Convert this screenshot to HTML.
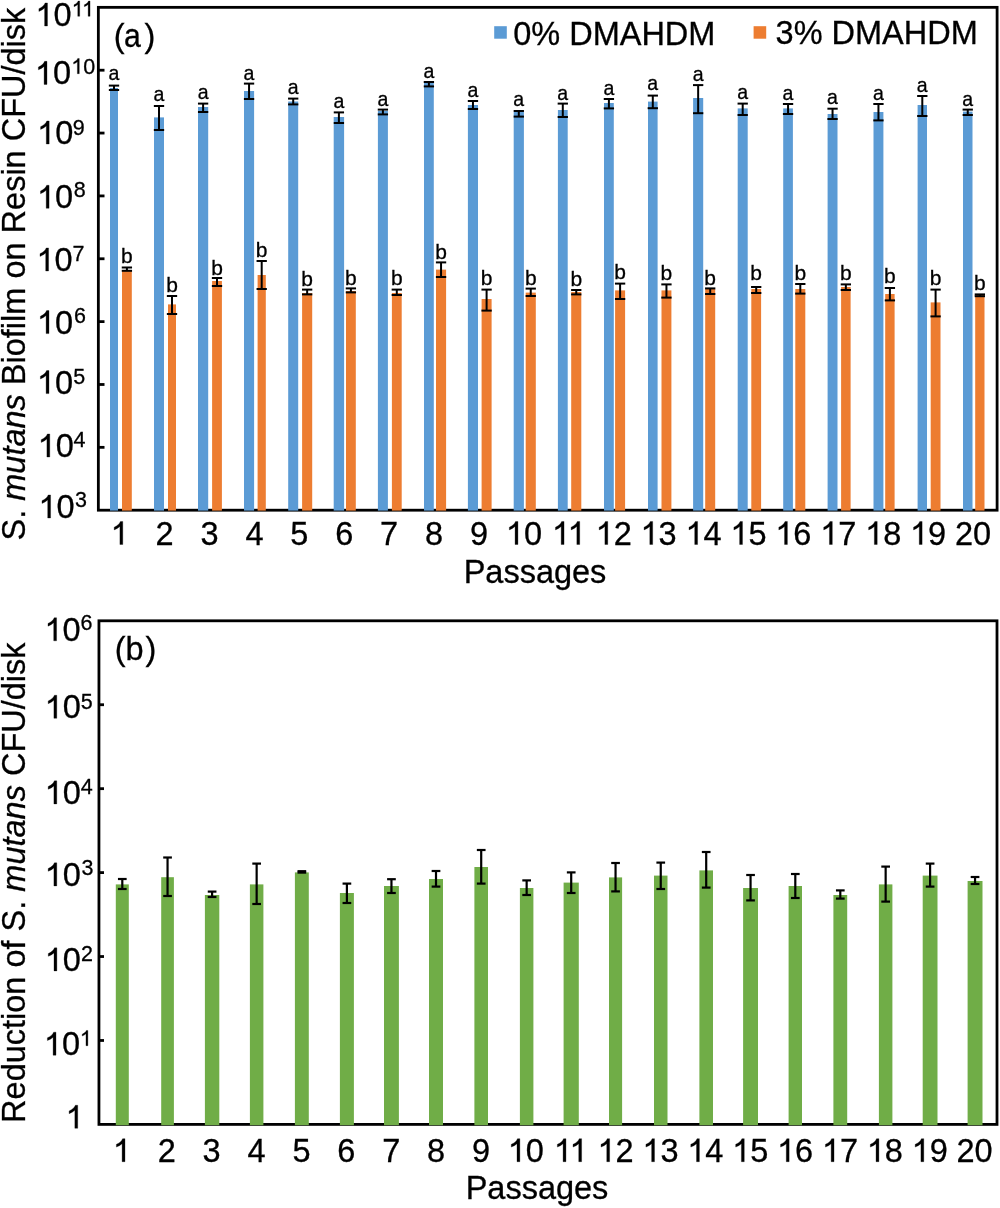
<!DOCTYPE html>
<html><head><meta charset="utf-8"><style>
html,body{margin:0;padding:0;background:#fff;}
svg{display:block;will-change:transform;}
text{font-family:"Liberation Sans",sans-serif;fill:#000;stroke:#000;stroke-width:0.3px;}
.g1{stroke:#000;stroke-width:0.3px;}
</style></head><body>
<svg width="1000" height="1208" viewBox="0 0 1000 1208">
<rect width="1000" height="1208" fill="#fff"/>
<rect x="98.35" y="7.35" width="898.75" height="502.85" fill="none" stroke="#000" stroke-width="2.8"/>
<rect x="110.00" y="88.00" width="8.00" height="422.60" fill="#5B9BD5"/>
<rect x="122.00" y="270.00" width="9.80" height="240.60" fill="#ED7D31"/>
<rect x="154.00" y="117.40" width="10.00" height="393.20" fill="#5B9BD5"/>
<rect x="168.00" y="304.40" width="8.00" height="206.20" fill="#ED7D31"/>
<rect x="198.00" y="107.00" width="10.20" height="403.60" fill="#5B9BD5"/>
<rect x="212.10" y="281.00" width="9.80" height="229.60" fill="#ED7D31"/>
<rect x="244.00" y="91.00" width="10.10" height="419.60" fill="#5B9BD5"/>
<rect x="257.60" y="275.00" width="8.20" height="235.60" fill="#ED7D31"/>
<rect x="288.20" y="101.50" width="10.00" height="409.10" fill="#5B9BD5"/>
<rect x="302.10" y="293.00" width="10.10" height="217.60" fill="#ED7D31"/>
<rect x="333.70" y="117.00" width="10.40" height="393.60" fill="#5B9BD5"/>
<rect x="346.00" y="291.00" width="9.80" height="219.60" fill="#ED7D31"/>
<rect x="377.90" y="111.00" width="10.00" height="399.60" fill="#5B9BD5"/>
<rect x="391.90" y="293.00" width="9.80" height="217.60" fill="#ED7D31"/>
<rect x="424.00" y="83.00" width="9.80" height="427.60" fill="#5B9BD5"/>
<rect x="436.00" y="269.60" width="10.10" height="241.00" fill="#ED7D31"/>
<rect x="467.90" y="105.00" width="10.10" height="405.60" fill="#5B9BD5"/>
<rect x="481.60" y="299.00" width="10.00" height="211.60" fill="#ED7D31"/>
<rect x="513.70" y="112.00" width="10.20" height="398.60" fill="#5B9BD5"/>
<rect x="525.70" y="292.60" width="10.10" height="218.00" fill="#ED7D31"/>
<rect x="557.90" y="110.00" width="9.80" height="400.60" fill="#5B9BD5"/>
<rect x="571.20" y="292.00" width="10.10" height="218.60" fill="#ED7D31"/>
<rect x="604.00" y="103.00" width="9.80" height="407.60" fill="#5B9BD5"/>
<rect x="615.10" y="290.40" width="10.00" height="220.20" fill="#ED7D31"/>
<rect x="648.00" y="101.60" width="9.60" height="409.00" fill="#5B9BD5"/>
<rect x="661.50" y="290.40" width="9.90" height="220.20" fill="#ED7D31"/>
<rect x="693.10" y="98.00" width="10.10" height="412.60" fill="#5B9BD5"/>
<rect x="705.20" y="289.00" width="10.00" height="221.60" fill="#ED7D31"/>
<rect x="737.70" y="108.40" width="10.00" height="402.20" fill="#5B9BD5"/>
<rect x="751.30" y="289.00" width="9.80" height="221.60" fill="#ED7D31"/>
<rect x="783.20" y="108.40" width="9.70" height="402.20" fill="#5B9BD5"/>
<rect x="795.30" y="289.00" width="10.00" height="221.60" fill="#ED7D31"/>
<rect x="827.60" y="114.00" width="9.90" height="396.60" fill="#5B9BD5"/>
<rect x="841.10" y="287.00" width="9.50" height="223.60" fill="#ED7D31"/>
<rect x="873.50" y="112.00" width="9.90" height="398.60" fill="#5B9BD5"/>
<rect x="885.20" y="294.00" width="9.40" height="216.60" fill="#ED7D31"/>
<rect x="917.60" y="105.00" width="9.40" height="405.60" fill="#5B9BD5"/>
<rect x="930.70" y="302.40" width="9.80" height="208.20" fill="#ED7D31"/>
<rect x="963.00" y="111.60" width="9.50" height="399.00" fill="#5B9BD5"/>
<rect x="975.20" y="294.50" width="9.30" height="216.10" fill="#ED7D31"/>
<g stroke="#000" stroke-width="2" fill="none"><line x1="114.00" y1="85.60" x2="114.00" y2="90.00"/><line x1="108.85" y1="85.60" x2="119.15" y2="85.60"/><line x1="108.85" y1="90.00" x2="119.15" y2="90.00"/><line x1="126.90" y1="267.50" x2="126.90" y2="270.80"/><line x1="121.75" y1="267.50" x2="132.05" y2="267.50"/><line x1="121.75" y1="270.80" x2="132.05" y2="270.80"/><line x1="159.00" y1="106.00" x2="159.00" y2="130.00"/><line x1="153.85" y1="106.00" x2="164.15" y2="106.00"/><line x1="153.85" y1="130.00" x2="164.15" y2="130.00"/><line x1="172.00" y1="296.00" x2="172.00" y2="314.00"/><line x1="166.85" y1="296.00" x2="177.15" y2="296.00"/><line x1="166.85" y1="314.00" x2="177.15" y2="314.00"/><line x1="203.10" y1="103.60" x2="203.10" y2="112.00"/><line x1="197.95" y1="103.60" x2="208.25" y2="103.60"/><line x1="197.95" y1="112.00" x2="208.25" y2="112.00"/><line x1="217.00" y1="278.00" x2="217.00" y2="286.00"/><line x1="211.85" y1="278.00" x2="222.15" y2="278.00"/><line x1="211.85" y1="286.00" x2="222.15" y2="286.00"/><line x1="249.05" y1="83.60" x2="249.05" y2="99.00"/><line x1="243.90" y1="83.60" x2="254.20" y2="83.60"/><line x1="243.90" y1="99.00" x2="254.20" y2="99.00"/><line x1="261.70" y1="261.00" x2="261.70" y2="289.00"/><line x1="256.55" y1="261.00" x2="266.85" y2="261.00"/><line x1="256.55" y1="289.00" x2="266.85" y2="289.00"/><line x1="293.20" y1="98.60" x2="293.20" y2="104.40"/><line x1="288.05" y1="98.60" x2="298.35" y2="98.60"/><line x1="288.05" y1="104.40" x2="298.35" y2="104.40"/><line x1="307.15" y1="289.60" x2="307.15" y2="294.40"/><line x1="302.00" y1="289.60" x2="312.30" y2="289.60"/><line x1="302.00" y1="294.40" x2="312.30" y2="294.40"/><line x1="338.90" y1="112.40" x2="338.90" y2="123.00"/><line x1="333.75" y1="112.40" x2="344.05" y2="112.40"/><line x1="333.75" y1="123.00" x2="344.05" y2="123.00"/><line x1="350.90" y1="288.40" x2="350.90" y2="292.40"/><line x1="345.75" y1="288.40" x2="356.05" y2="288.40"/><line x1="345.75" y1="292.40" x2="356.05" y2="292.40"/><line x1="382.90" y1="109.60" x2="382.90" y2="114.40"/><line x1="377.75" y1="109.60" x2="388.05" y2="109.60"/><line x1="377.75" y1="114.40" x2="388.05" y2="114.40"/><line x1="396.80" y1="289.60" x2="396.80" y2="295.00"/><line x1="391.65" y1="289.60" x2="401.95" y2="289.60"/><line x1="391.65" y1="295.00" x2="401.95" y2="295.00"/><line x1="428.90" y1="82.00" x2="428.90" y2="86.40"/><line x1="423.75" y1="82.00" x2="434.05" y2="82.00"/><line x1="423.75" y1="86.40" x2="434.05" y2="86.40"/><line x1="441.05" y1="262.40" x2="441.05" y2="277.00"/><line x1="435.90" y1="262.40" x2="446.20" y2="262.40"/><line x1="435.90" y1="277.00" x2="446.20" y2="277.00"/><line x1="472.95" y1="101.00" x2="472.95" y2="109.00"/><line x1="467.80" y1="101.00" x2="478.10" y2="101.00"/><line x1="467.80" y1="109.00" x2="478.10" y2="109.00"/><line x1="486.60" y1="289.60" x2="486.60" y2="310.60"/><line x1="481.45" y1="289.60" x2="491.75" y2="289.60"/><line x1="481.45" y1="310.60" x2="491.75" y2="310.60"/><line x1="518.80" y1="111.00" x2="518.80" y2="116.60"/><line x1="513.65" y1="111.00" x2="523.95" y2="111.00"/><line x1="513.65" y1="116.60" x2="523.95" y2="116.60"/><line x1="530.75" y1="288.60" x2="530.75" y2="296.00"/><line x1="525.60" y1="288.60" x2="535.90" y2="288.60"/><line x1="525.60" y1="296.00" x2="535.90" y2="296.00"/><line x1="562.80" y1="103.60" x2="562.80" y2="117.00"/><line x1="557.65" y1="103.60" x2="567.95" y2="103.60"/><line x1="557.65" y1="117.00" x2="567.95" y2="117.00"/><line x1="576.25" y1="290.00" x2="576.25" y2="294.40"/><line x1="571.10" y1="290.00" x2="581.40" y2="290.00"/><line x1="571.10" y1="294.40" x2="581.40" y2="294.40"/><line x1="608.90" y1="99.00" x2="608.90" y2="108.40"/><line x1="603.75" y1="99.00" x2="614.05" y2="99.00"/><line x1="603.75" y1="108.40" x2="614.05" y2="108.40"/><line x1="620.10" y1="283.60" x2="620.10" y2="299.00"/><line x1="614.95" y1="283.60" x2="625.25" y2="283.60"/><line x1="614.95" y1="299.00" x2="625.25" y2="299.00"/><line x1="652.80" y1="95.60" x2="652.80" y2="108.20"/><line x1="647.65" y1="95.60" x2="657.95" y2="95.60"/><line x1="647.65" y1="108.20" x2="657.95" y2="108.20"/><line x1="666.45" y1="284.40" x2="666.45" y2="297.60"/><line x1="661.30" y1="284.40" x2="671.60" y2="284.40"/><line x1="661.30" y1="297.60" x2="671.60" y2="297.60"/><line x1="698.15" y1="85.10" x2="698.15" y2="113.20"/><line x1="693.00" y1="85.10" x2="703.30" y2="85.10"/><line x1="693.00" y1="113.20" x2="703.30" y2="113.20"/><line x1="710.20" y1="288.40" x2="710.20" y2="294.00"/><line x1="705.05" y1="288.40" x2="715.35" y2="288.40"/><line x1="705.05" y1="294.00" x2="715.35" y2="294.00"/><line x1="742.70" y1="103.60" x2="742.70" y2="115.00"/><line x1="737.55" y1="103.60" x2="747.85" y2="103.60"/><line x1="737.55" y1="115.00" x2="747.85" y2="115.00"/><line x1="756.20" y1="287.00" x2="756.20" y2="293.00"/><line x1="751.05" y1="287.00" x2="761.35" y2="287.00"/><line x1="751.05" y1="293.00" x2="761.35" y2="293.00"/><line x1="788.05" y1="104.00" x2="788.05" y2="114.00"/><line x1="782.90" y1="104.00" x2="793.20" y2="104.00"/><line x1="782.90" y1="114.00" x2="793.20" y2="114.00"/><line x1="800.30" y1="284.00" x2="800.30" y2="293.60"/><line x1="795.15" y1="284.00" x2="805.45" y2="284.00"/><line x1="795.15" y1="293.60" x2="805.45" y2="293.60"/><line x1="832.55" y1="108.70" x2="832.55" y2="119.00"/><line x1="827.40" y1="108.70" x2="837.70" y2="108.70"/><line x1="827.40" y1="119.00" x2="837.70" y2="119.00"/><line x1="845.85" y1="284.40" x2="845.85" y2="290.00"/><line x1="840.70" y1="284.40" x2="851.00" y2="284.40"/><line x1="840.70" y1="290.00" x2="851.00" y2="290.00"/><line x1="878.45" y1="104.00" x2="878.45" y2="120.40"/><line x1="873.30" y1="104.00" x2="883.60" y2="104.00"/><line x1="873.30" y1="120.40" x2="883.60" y2="120.40"/><line x1="889.90" y1="288.00" x2="889.90" y2="300.40"/><line x1="884.75" y1="288.00" x2="895.05" y2="288.00"/><line x1="884.75" y1="300.40" x2="895.05" y2="300.40"/><line x1="922.30" y1="96.00" x2="922.30" y2="116.00"/><line x1="917.15" y1="96.00" x2="927.45" y2="96.00"/><line x1="917.15" y1="116.00" x2="927.45" y2="116.00"/><line x1="935.60" y1="289.60" x2="935.60" y2="316.40"/><line x1="930.45" y1="289.60" x2="940.75" y2="289.60"/><line x1="930.45" y1="316.40" x2="940.75" y2="316.40"/><line x1="967.75" y1="109.60" x2="967.75" y2="115.00"/><line x1="962.60" y1="109.60" x2="972.90" y2="109.60"/><line x1="962.60" y1="115.00" x2="972.90" y2="115.00"/><line x1="979.85" y1="294.40" x2="979.85" y2="296.20"/><line x1="974.70" y1="294.40" x2="985.00" y2="294.40"/><line x1="974.70" y1="296.20" x2="985.00" y2="296.20"/></g>
<g font-size="21" text-anchor="middle"><text transform="translate(114.00,80.40) scale(0.93,1)">a</text><text transform="translate(126.90,263.40)">b</text><text transform="translate(159.00,101.40) scale(0.93,1)">a</text><text transform="translate(172.00,292.40)">b</text><text transform="translate(203.10,99.40) scale(0.93,1)">a</text><text transform="translate(217.00,274.80)">b</text><text transform="translate(249.05,80.00) scale(0.93,1)">a</text><text transform="translate(261.70,257.40)">b</text><text transform="translate(293.20,94.40) scale(0.93,1)">a</text><text transform="translate(307.15,286.40)">b</text><text transform="translate(338.90,108.40) scale(0.93,1)">a</text><text transform="translate(350.90,284.80)">b</text><text transform="translate(382.90,106.00) scale(0.93,1)">a</text><text transform="translate(396.80,285.40)">b</text><text transform="translate(428.90,78.40) scale(0.93,1)">a</text><text transform="translate(441.05,259.40)">b</text><text transform="translate(472.95,97.40) scale(0.93,1)">a</text><text transform="translate(486.60,284.80)">b</text><text transform="translate(518.80,106.00) scale(0.93,1)">a</text><text transform="translate(530.75,284.80)">b</text><text transform="translate(562.80,100.40) scale(0.93,1)">a</text><text transform="translate(576.25,286.40)">b</text><text transform="translate(608.90,94.80) scale(0.93,1)">a</text><text transform="translate(620.10,279.40)">b</text><text transform="translate(652.80,90.40) scale(0.93,1)">a</text><text transform="translate(666.45,280.40)">b</text><text transform="translate(698.15,81.30) scale(0.93,1)">a</text><text transform="translate(710.20,284.80)">b</text><text transform="translate(742.70,99.40) scale(0.93,1)">a</text><text transform="translate(756.20,280.40)">b</text><text transform="translate(788.05,100.40) scale(0.93,1)">a</text><text transform="translate(800.30,280.40)">b</text><text transform="translate(832.55,104.40) scale(0.93,1)">a</text><text transform="translate(845.85,280.40)">b</text><text transform="translate(878.45,100.40) scale(0.93,1)">a</text><text transform="translate(889.90,283.40)">b</text><text transform="translate(922.30,92.40) scale(0.93,1)">a</text><text transform="translate(935.60,285.40)">b</text><text transform="translate(967.75,106.40) scale(0.93,1)">a</text><text transform="translate(979.85,290.40)">b</text></g>
<g stroke="#000" stroke-width="2.8"><line x1="98.35" y1="447.34" x2="104.5" y2="447.34"/><line x1="98.35" y1="384.49" x2="104.5" y2="384.49"/><line x1="98.35" y1="321.63" x2="104.5" y2="321.63"/><line x1="98.35" y1="258.77" x2="104.5" y2="258.77"/><line x1="98.35" y1="195.92" x2="104.5" y2="195.92"/><line x1="98.35" y1="133.06" x2="104.5" y2="133.06"/><line x1="98.35" y1="70.21" x2="104.5" y2="70.21"/></g>
<g><path class="g1" transform="translate(35.36,26.00) scale(0.01587,-0.01635)" d="M763,0L583,0L583,1102Q430,970 223,894L223,1061Q380,1130 470,1210Q570,1300 615,1409L763,1409Z" vector-effect="non-scaling-stroke"/><text transform="translate(53.44,26.00) scale(1,1.03)" font-size="32.5">0</text><path class="g1" transform="translate(71.66,16.30) scale(0.01050,-0.01081)" d="M763,0L583,0L583,1102Q430,970 223,894L223,1061Q380,1130 470,1210Q570,1300 615,1409L763,1409Z" vector-effect="non-scaling-stroke"/><path class="g1" transform="translate(82.02,16.30) scale(0.01050,-0.01081)" d="M763,0L583,0L583,1102Q430,970 223,894L223,1061Q380,1130 470,1210Q570,1300 615,1409L763,1409Z" vector-effect="non-scaling-stroke"/><path class="g1" transform="translate(34.86,84.40) scale(0.01587,-0.01635)" d="M763,0L583,0L583,1102Q430,970 223,894L223,1061Q380,1130 470,1210Q570,1300 615,1409L763,1409Z" vector-effect="non-scaling-stroke"/><text transform="translate(52.94,84.40) scale(1,1.03)" font-size="32.5">0</text><path class="g1" transform="translate(71.26,73.70) scale(0.01050,-0.01081)" d="M763,0L583,0L583,1102Q430,970 223,894L223,1061Q380,1130 470,1210Q570,1300 615,1409L763,1409Z" vector-effect="non-scaling-stroke"/><text transform="translate(83.22,73.70) scale(1,1.03)" font-size="21.5">0</text><path class="g1" transform="translate(37.06,144.00) scale(0.01587,-0.01635)" d="M763,0L583,0L583,1102Q430,970 223,894L223,1061Q380,1130 470,1210Q570,1300 615,1409L763,1409Z" vector-effect="non-scaling-stroke"/><text transform="translate(55.14,144.00) scale(1,1.03)" font-size="32.5">0</text><text transform="translate(72.69,134.50) scale(1,1.03)" font-size="21.5">9</text><path class="g1" transform="translate(36.96,208.30) scale(0.01587,-0.01635)" d="M763,0L583,0L583,1102Q430,970 223,894L223,1061Q380,1130 470,1210Q570,1300 615,1409L763,1409Z" vector-effect="non-scaling-stroke"/><text transform="translate(55.04,208.30) scale(1,1.03)" font-size="32.5">0</text><text transform="translate(73.67,197.00) scale(1,1.03)" font-size="21.5">8</text><path class="g1" transform="translate(36.46,271.00) scale(0.01587,-0.01635)" d="M763,0L583,0L583,1102Q430,970 223,894L223,1061Q380,1130 470,1210Q570,1300 615,1409L763,1409Z" vector-effect="non-scaling-stroke"/><text transform="translate(54.54,271.00) scale(1,1.03)" font-size="32.5">0</text><text transform="translate(72.60,260.60) scale(1,1.03)" font-size="21.5">7</text><path class="g1" transform="translate(36.86,333.60) scale(0.01587,-0.01635)" d="M763,0L583,0L583,1102Q430,970 223,894L223,1061Q380,1130 470,1210Q570,1300 615,1409L763,1409Z" vector-effect="non-scaling-stroke"/><text transform="translate(54.94,333.60) scale(1,1.03)" font-size="32.5">0</text><text transform="translate(73.91,323.30) scale(1,1.03)" font-size="21.5">6</text><path class="g1" transform="translate(36.86,393.60) scale(0.01587,-0.01635)" d="M763,0L583,0L583,1102Q430,970 223,894L223,1061Q380,1130 470,1210Q570,1300 615,1409L763,1409Z" vector-effect="non-scaling-stroke"/><text transform="translate(54.94,393.60) scale(1,1.03)" font-size="32.5">0</text><text transform="translate(73.24,383.70) scale(1,1.03)" font-size="21.5">5</text><path class="g1" transform="translate(37.66,457.00) scale(0.01587,-0.01635)" d="M763,0L583,0L583,1102Q430,970 223,894L223,1061Q380,1130 470,1210Q570,1300 615,1409L763,1409Z" vector-effect="non-scaling-stroke"/><text transform="translate(55.74,457.00) scale(1,1.03)" font-size="32.5">0</text><text transform="translate(73.61,446.90) scale(1,1.03)" font-size="21.5">4</text><path class="g1" transform="translate(38.46,518.00) scale(0.01587,-0.01635)" d="M763,0L583,0L583,1102Q430,970 223,894L223,1061Q380,1130 470,1210Q570,1300 615,1409L763,1409Z" vector-effect="non-scaling-stroke"/><text transform="translate(56.54,518.00) scale(1,1.03)" font-size="32.5">0</text><text transform="translate(74.98,507.40) scale(1,1.03)" font-size="21.5">3</text></g>
<g><path class="g1" transform="translate(110.66,544.50) scale(0.01587,-0.01635)" d="M763,0L583,0L583,1102Q430,970 223,894L223,1061Q380,1130 470,1210Q570,1300 615,1409L763,1409Z" vector-effect="non-scaling-stroke"/><text transform="translate(155.57,544.50) scale(1,1.03)" font-size="32.5">2</text><text transform="translate(200.48,544.50) scale(1,1.03)" font-size="32.5">3</text><text transform="translate(245.39,544.50) scale(1,1.03)" font-size="32.5">4</text><text transform="translate(290.30,544.50) scale(1,1.03)" font-size="32.5">5</text><text transform="translate(335.21,544.50) scale(1,1.03)" font-size="32.5">6</text><text transform="translate(380.12,544.50) scale(1,1.03)" font-size="32.5">7</text><text transform="translate(425.03,544.50) scale(1,1.03)" font-size="32.5">8</text><text transform="translate(469.94,544.50) scale(1,1.03)" font-size="32.5">9</text><path class="g1" transform="translate(505.82,544.50) scale(0.01587,-0.01635)" d="M763,0L583,0L583,1102Q430,970 223,894L223,1061Q380,1130 470,1210Q570,1300 615,1409L763,1409Z" vector-effect="non-scaling-stroke"/><text transform="translate(523.89,544.50) scale(1,1.03)" font-size="32.5">0</text><path class="g1" transform="translate(551.93,544.50) scale(0.01587,-0.01635)" d="M763,0L583,0L583,1102Q430,970 223,894L223,1061Q380,1130 470,1210Q570,1300 615,1409L763,1409Z" vector-effect="non-scaling-stroke"/><path class="g1" transform="translate(567.59,544.50) scale(0.01587,-0.01635)" d="M763,0L583,0L583,1102Q430,970 223,894L223,1061Q380,1130 470,1210Q570,1300 615,1409L763,1409Z" vector-effect="non-scaling-stroke"/><path class="g1" transform="translate(595.64,544.50) scale(0.01587,-0.01635)" d="M763,0L583,0L583,1102Q430,970 223,894L223,1061Q380,1130 470,1210Q570,1300 615,1409L763,1409Z" vector-effect="non-scaling-stroke"/><text transform="translate(613.71,544.50) scale(1,1.03)" font-size="32.5">2</text><path class="g1" transform="translate(640.55,544.50) scale(0.01587,-0.01635)" d="M763,0L583,0L583,1102Q430,970 223,894L223,1061Q380,1130 470,1210Q570,1300 615,1409L763,1409Z" vector-effect="non-scaling-stroke"/><text transform="translate(658.62,544.50) scale(1,1.03)" font-size="32.5">3</text><path class="g1" transform="translate(685.46,544.50) scale(0.01587,-0.01635)" d="M763,0L583,0L583,1102Q430,970 223,894L223,1061Q380,1130 470,1210Q570,1300 615,1409L763,1409Z" vector-effect="non-scaling-stroke"/><text transform="translate(703.53,544.50) scale(1,1.03)" font-size="32.5">4</text><path class="g1" transform="translate(730.37,544.50) scale(0.01587,-0.01635)" d="M763,0L583,0L583,1102Q430,970 223,894L223,1061Q380,1130 470,1210Q570,1300 615,1409L763,1409Z" vector-effect="non-scaling-stroke"/><text transform="translate(748.44,544.50) scale(1,1.03)" font-size="32.5">5</text><path class="g1" transform="translate(775.28,544.50) scale(0.01587,-0.01635)" d="M763,0L583,0L583,1102Q430,970 223,894L223,1061Q380,1130 470,1210Q570,1300 615,1409L763,1409Z" vector-effect="non-scaling-stroke"/><text transform="translate(793.35,544.50) scale(1,1.03)" font-size="32.5">6</text><path class="g1" transform="translate(820.19,544.50) scale(0.01587,-0.01635)" d="M763,0L583,0L583,1102Q430,970 223,894L223,1061Q380,1130 470,1210Q570,1300 615,1409L763,1409Z" vector-effect="non-scaling-stroke"/><text transform="translate(838.26,544.50) scale(1,1.03)" font-size="32.5">7</text><path class="g1" transform="translate(865.10,544.50) scale(0.01587,-0.01635)" d="M763,0L583,0L583,1102Q430,970 223,894L223,1061Q380,1130 470,1210Q570,1300 615,1409L763,1409Z" vector-effect="non-scaling-stroke"/><text transform="translate(883.17,544.50) scale(1,1.03)" font-size="32.5">8</text><path class="g1" transform="translate(910.01,544.50) scale(0.01587,-0.01635)" d="M763,0L583,0L583,1102Q430,970 223,894L223,1061Q380,1130 470,1210Q570,1300 615,1409L763,1409Z" vector-effect="non-scaling-stroke"/><text transform="translate(928.08,544.50) scale(1,1.03)" font-size="32.5">9</text><text transform="translate(954.92,544.50) scale(1,1.03)" font-size="32.5">20</text></g>
<text transform="translate(535,583) scale(1,1.03)" font-size="32.5" text-anchor="middle">Passages</text>
<text transform="translate(24.9,540.5) rotate(-90)" font-size="32.5">S. <tspan font-style="italic">mutans</tspan> Biofilm on Resin CFU/disk</text>
<g font-size="32.5"><text x="113.8" y="47">(</text><text transform="translate(124.1,47) scale(0.93,1)">a</text><text x="144.4" y="47">)</text></g>
<rect x="494.2" y="26.2" width="12.6" height="12.5" fill="#5B9BD5"/>
<text transform="translate(513.2,44.9) scale(1,1.03)" font-size="32.5">0% DMAHDM</text>
<rect x="753.6" y="26.2" width="12.6" height="12.5" fill="#ED7D31"/>
<text transform="translate(775.6,43.9) scale(1,1.03)" font-size="32.5">3% DMAHDM</text>
<rect x="98.95" y="620.8" width="898.05" height="503.60" fill="none" stroke="#000" stroke-width="2.8"/>
<rect x="115.80" y="884.40" width="13.00" height="240.80" fill="#70AD47"/>
<rect x="161.20" y="877.20" width="12.70" height="248.00" fill="#70AD47"/>
<rect x="204.90" y="895.00" width="14.40" height="230.20" fill="#70AD47"/>
<rect x="249.90" y="884.40" width="13.50" height="240.80" fill="#70AD47"/>
<rect x="294.90" y="872.40" width="13.90" height="252.80" fill="#70AD47"/>
<rect x="339.90" y="893.00" width="14.00" height="232.20" fill="#70AD47"/>
<rect x="384.00" y="886.00" width="14.90" height="239.20" fill="#70AD47"/>
<rect x="429.00" y="879.00" width="14.00" height="246.20" fill="#70AD47"/>
<rect x="474.40" y="867.00" width="13.60" height="258.20" fill="#70AD47"/>
<rect x="519.90" y="888.00" width="13.50" height="237.20" fill="#70AD47"/>
<rect x="563.60" y="882.60" width="15.20" height="242.60" fill="#70AD47"/>
<rect x="609.00" y="877.40" width="13.10" height="247.80" fill="#70AD47"/>
<rect x="654.00" y="875.60" width="13.50" height="249.60" fill="#70AD47"/>
<rect x="699.40" y="870.40" width="13.60" height="254.80" fill="#70AD47"/>
<rect x="743.10" y="888.00" width="14.90" height="237.20" fill="#70AD47"/>
<rect x="788.60" y="886.00" width="13.40" height="239.20" fill="#70AD47"/>
<rect x="833.40" y="895.00" width="13.80" height="230.20" fill="#70AD47"/>
<rect x="878.90" y="884.40" width="13.50" height="240.80" fill="#70AD47"/>
<rect x="922.70" y="875.60" width="14.80" height="249.60" fill="#70AD47"/>
<rect x="967.60" y="881.00" width="14.90" height="244.20" fill="#70AD47"/>
<g stroke="#000" stroke-width="2.2" fill="none"><line x1="122.30" y1="879.00" x2="122.30" y2="889.00"/><line x1="117.95" y1="879.00" x2="126.65" y2="879.00"/><line x1="117.95" y1="889.00" x2="126.65" y2="889.00"/><line x1="167.55" y1="857.50" x2="167.55" y2="896.00"/><line x1="163.20" y1="857.50" x2="171.90" y2="857.50"/><line x1="163.20" y1="896.00" x2="171.90" y2="896.00"/><line x1="212.10" y1="891.60" x2="212.10" y2="897.00"/><line x1="207.75" y1="891.60" x2="216.45" y2="891.60"/><line x1="207.75" y1="897.00" x2="216.45" y2="897.00"/><line x1="256.65" y1="863.60" x2="256.65" y2="904.00"/><line x1="252.30" y1="863.60" x2="261.00" y2="863.60"/><line x1="252.30" y1="904.00" x2="261.00" y2="904.00"/><line x1="301.85" y1="871.20" x2="301.85" y2="872.60"/><line x1="297.50" y1="871.20" x2="306.20" y2="871.20"/><line x1="297.50" y1="872.60" x2="306.20" y2="872.60"/><line x1="346.90" y1="883.60" x2="346.90" y2="903.00"/><line x1="342.55" y1="883.60" x2="351.25" y2="883.60"/><line x1="342.55" y1="903.00" x2="351.25" y2="903.00"/><line x1="391.45" y1="879.20" x2="391.45" y2="893.00"/><line x1="387.10" y1="879.20" x2="395.80" y2="879.20"/><line x1="387.10" y1="893.00" x2="395.80" y2="893.00"/><line x1="436.00" y1="871.00" x2="436.00" y2="886.60"/><line x1="431.65" y1="871.00" x2="440.35" y2="871.00"/><line x1="431.65" y1="886.60" x2="440.35" y2="886.60"/><line x1="481.20" y1="850.00" x2="481.20" y2="883.60"/><line x1="476.85" y1="850.00" x2="485.55" y2="850.00"/><line x1="476.85" y1="883.60" x2="485.55" y2="883.60"/><line x1="526.65" y1="880.40" x2="526.65" y2="895.00"/><line x1="522.30" y1="880.40" x2="531.00" y2="880.40"/><line x1="522.30" y1="895.00" x2="531.00" y2="895.00"/><line x1="571.20" y1="872.40" x2="571.20" y2="893.00"/><line x1="566.85" y1="872.40" x2="575.55" y2="872.40"/><line x1="566.85" y1="893.00" x2="575.55" y2="893.00"/><line x1="615.55" y1="863.00" x2="615.55" y2="891.40"/><line x1="611.20" y1="863.00" x2="619.90" y2="863.00"/><line x1="611.20" y1="891.40" x2="619.90" y2="891.40"/><line x1="660.75" y1="862.60" x2="660.75" y2="889.00"/><line x1="656.40" y1="862.60" x2="665.10" y2="862.60"/><line x1="656.40" y1="889.00" x2="665.10" y2="889.00"/><line x1="706.20" y1="852.00" x2="706.20" y2="887.60"/><line x1="701.85" y1="852.00" x2="710.55" y2="852.00"/><line x1="701.85" y1="887.60" x2="710.55" y2="887.60"/><line x1="750.55" y1="875.00" x2="750.55" y2="900.40"/><line x1="746.20" y1="875.00" x2="754.90" y2="875.00"/><line x1="746.20" y1="900.40" x2="754.90" y2="900.40"/><line x1="795.30" y1="874.00" x2="795.30" y2="898.00"/><line x1="790.95" y1="874.00" x2="799.65" y2="874.00"/><line x1="790.95" y1="898.00" x2="799.65" y2="898.00"/><line x1="840.30" y1="890.40" x2="840.30" y2="898.60"/><line x1="835.95" y1="890.40" x2="844.65" y2="890.40"/><line x1="835.95" y1="898.60" x2="844.65" y2="898.60"/><line x1="885.65" y1="866.60" x2="885.65" y2="901.60"/><line x1="881.30" y1="866.60" x2="890.00" y2="866.60"/><line x1="881.30" y1="901.60" x2="890.00" y2="901.60"/><line x1="930.10" y1="863.60" x2="930.10" y2="886.60"/><line x1="925.75" y1="863.60" x2="934.45" y2="863.60"/><line x1="925.75" y1="886.60" x2="934.45" y2="886.60"/><line x1="975.05" y1="877.00" x2="975.05" y2="884.00"/><line x1="970.70" y1="877.00" x2="979.40" y2="877.00"/><line x1="970.70" y1="884.00" x2="979.40" y2="884.00"/></g>
<g stroke="#000" stroke-width="2.8"><line x1="98.95" y1="1040.47" x2="104" y2="1040.47"/><line x1="98.95" y1="956.53" x2="104" y2="956.53"/><line x1="98.95" y1="872.60" x2="104" y2="872.60"/><line x1="98.95" y1="788.67" x2="104" y2="788.67"/><line x1="98.95" y1="704.73" x2="104" y2="704.73"/></g>
<g><path class="g1" transform="translate(44.46,640.80) scale(0.01587,-0.01635)" d="M763,0L583,0L583,1102Q430,970 223,894L223,1061Q380,1130 470,1210Q570,1300 615,1409L763,1409Z" vector-effect="non-scaling-stroke"/><text transform="translate(62.54,640.80) scale(1,1.03)" font-size="32.5">0</text><text transform="translate(80.61,630.40) scale(1,1.03)" font-size="21.5">6</text><path class="g1" transform="translate(44.66,718.30) scale(0.01587,-0.01635)" d="M763,0L583,0L583,1102Q430,970 223,894L223,1061Q380,1130 470,1210Q570,1300 615,1409L763,1409Z" vector-effect="non-scaling-stroke"/><text transform="translate(62.74,718.30) scale(1,1.03)" font-size="32.5">0</text><text transform="translate(80.84,708.50) scale(1,1.03)" font-size="21.5">5</text><path class="g1" transform="translate(44.66,803.90) scale(0.01587,-0.01635)" d="M763,0L583,0L583,1102Q430,970 223,894L223,1061Q380,1130 470,1210Q570,1300 615,1409L763,1409Z" vector-effect="non-scaling-stroke"/><text transform="translate(62.74,803.90) scale(1,1.03)" font-size="32.5">0</text><text transform="translate(80.71,793.80) scale(1,1.03)" font-size="21.5">4</text><path class="g1" transform="translate(44.66,885.90) scale(0.01587,-0.01635)" d="M763,0L583,0L583,1102Q430,970 223,894L223,1061Q380,1130 470,1210Q570,1300 615,1409L763,1409Z" vector-effect="non-scaling-stroke"/><text transform="translate(62.74,885.90) scale(1,1.03)" font-size="32.5">0</text><text transform="translate(81.38,875.40) scale(1,1.03)" font-size="21.5">3</text><path class="g1" transform="translate(44.76,970.90) scale(0.01587,-0.01635)" d="M763,0L583,0L583,1102Q430,970 223,894L223,1061Q380,1130 470,1210Q570,1300 615,1409L763,1409Z" vector-effect="non-scaling-stroke"/><text transform="translate(62.84,970.90) scale(1,1.03)" font-size="32.5">0</text><text transform="translate(81.12,961.00) scale(1,1.03)" font-size="21.5">2</text><path class="g1" transform="translate(43.86,1055.20) scale(0.01587,-0.01635)" d="M763,0L583,0L583,1102Q430,970 223,894L223,1061Q380,1130 470,1210Q570,1300 615,1409L763,1409Z" vector-effect="non-scaling-stroke"/><text transform="translate(61.94,1055.20) scale(1,1.03)" font-size="32.5">0</text><path class="g1" transform="translate(79.86,1045.70) scale(0.01050,-0.01081)" d="M763,0L583,0L583,1102Q430,970 223,894L223,1061Q380,1130 470,1210Q570,1300 615,1409L763,1409Z" vector-effect="non-scaling-stroke"/></g>
<path class="g1" transform="translate(65.60,1128.30) scale(0.01587,-0.01635)" d="M763,0L583,0L583,1102Q430,970 223,894L223,1061Q380,1130 470,1210Q570,1300 615,1409L763,1409Z" vector-effect="non-scaling-stroke"/>
<g><path class="g1" transform="translate(112.86,1161.70) scale(0.01587,-0.01635)" d="M763,0L583,0L583,1102Q430,970 223,894L223,1061Q380,1130 470,1210Q570,1300 615,1409L763,1409Z" vector-effect="non-scaling-stroke"/><text transform="translate(157.74,1161.70) scale(1,1.03)" font-size="32.5">2</text><text transform="translate(202.62,1161.70) scale(1,1.03)" font-size="32.5">3</text><text transform="translate(247.50,1161.70) scale(1,1.03)" font-size="32.5">4</text><text transform="translate(292.38,1161.70) scale(1,1.03)" font-size="32.5">5</text><text transform="translate(337.26,1161.70) scale(1,1.03)" font-size="32.5">6</text><text transform="translate(382.14,1161.70) scale(1,1.03)" font-size="32.5">7</text><text transform="translate(427.02,1161.70) scale(1,1.03)" font-size="32.5">8</text><text transform="translate(471.90,1161.70) scale(1,1.03)" font-size="32.5">9</text><path class="g1" transform="translate(507.75,1161.70) scale(0.01587,-0.01635)" d="M763,0L583,0L583,1102Q430,970 223,894L223,1061Q380,1130 470,1210Q570,1300 615,1409L763,1409Z" vector-effect="non-scaling-stroke"/><text transform="translate(525.82,1161.70) scale(1,1.03)" font-size="32.5">0</text><path class="g1" transform="translate(553.83,1161.70) scale(0.01587,-0.01635)" d="M763,0L583,0L583,1102Q430,970 223,894L223,1061Q380,1130 470,1210Q570,1300 615,1409L763,1409Z" vector-effect="non-scaling-stroke"/><path class="g1" transform="translate(569.49,1161.70) scale(0.01587,-0.01635)" d="M763,0L583,0L583,1102Q430,970 223,894L223,1061Q380,1130 470,1210Q570,1300 615,1409L763,1409Z" vector-effect="non-scaling-stroke"/><path class="g1" transform="translate(597.51,1161.70) scale(0.01587,-0.01635)" d="M763,0L583,0L583,1102Q430,970 223,894L223,1061Q380,1130 470,1210Q570,1300 615,1409L763,1409Z" vector-effect="non-scaling-stroke"/><text transform="translate(615.58,1161.70) scale(1,1.03)" font-size="32.5">2</text><path class="g1" transform="translate(642.39,1161.70) scale(0.01587,-0.01635)" d="M763,0L583,0L583,1102Q430,970 223,894L223,1061Q380,1130 470,1210Q570,1300 615,1409L763,1409Z" vector-effect="non-scaling-stroke"/><text transform="translate(660.46,1161.70) scale(1,1.03)" font-size="32.5">3</text><path class="g1" transform="translate(687.27,1161.70) scale(0.01587,-0.01635)" d="M763,0L583,0L583,1102Q430,970 223,894L223,1061Q380,1130 470,1210Q570,1300 615,1409L763,1409Z" vector-effect="non-scaling-stroke"/><text transform="translate(705.34,1161.70) scale(1,1.03)" font-size="32.5">4</text><path class="g1" transform="translate(732.15,1161.70) scale(0.01587,-0.01635)" d="M763,0L583,0L583,1102Q430,970 223,894L223,1061Q380,1130 470,1210Q570,1300 615,1409L763,1409Z" vector-effect="non-scaling-stroke"/><text transform="translate(750.22,1161.70) scale(1,1.03)" font-size="32.5">5</text><path class="g1" transform="translate(777.03,1161.70) scale(0.01587,-0.01635)" d="M763,0L583,0L583,1102Q430,970 223,894L223,1061Q380,1130 470,1210Q570,1300 615,1409L763,1409Z" vector-effect="non-scaling-stroke"/><text transform="translate(795.10,1161.70) scale(1,1.03)" font-size="32.5">6</text><path class="g1" transform="translate(821.91,1161.70) scale(0.01587,-0.01635)" d="M763,0L583,0L583,1102Q430,970 223,894L223,1061Q380,1130 470,1210Q570,1300 615,1409L763,1409Z" vector-effect="non-scaling-stroke"/><text transform="translate(839.98,1161.70) scale(1,1.03)" font-size="32.5">7</text><path class="g1" transform="translate(866.79,1161.70) scale(0.01587,-0.01635)" d="M763,0L583,0L583,1102Q430,970 223,894L223,1061Q380,1130 470,1210Q570,1300 615,1409L763,1409Z" vector-effect="non-scaling-stroke"/><text transform="translate(884.86,1161.70) scale(1,1.03)" font-size="32.5">8</text><path class="g1" transform="translate(911.67,1161.70) scale(0.01587,-0.01635)" d="M763,0L583,0L583,1102Q430,970 223,894L223,1061Q380,1130 470,1210Q570,1300 615,1409L763,1409Z" vector-effect="non-scaling-stroke"/><text transform="translate(929.74,1161.70) scale(1,1.03)" font-size="32.5">9</text><text transform="translate(956.55,1161.70) scale(1,1.03)" font-size="32.5">20</text></g>
<text transform="translate(537,1199.3) scale(1,1.03)" font-size="32.5" text-anchor="middle">Passages</text>
<text transform="translate(24.8,1122.9) rotate(-90)" font-size="32.5">Reduction of S. <tspan font-style="italic">mutans</tspan> CFU/disk</text>
<g font-size="32.5"><text x="114.7" y="660">(</text><text x="125.4" y="660">b</text><text x="145.6" y="660">)</text></g>
</svg>
</body></html>
